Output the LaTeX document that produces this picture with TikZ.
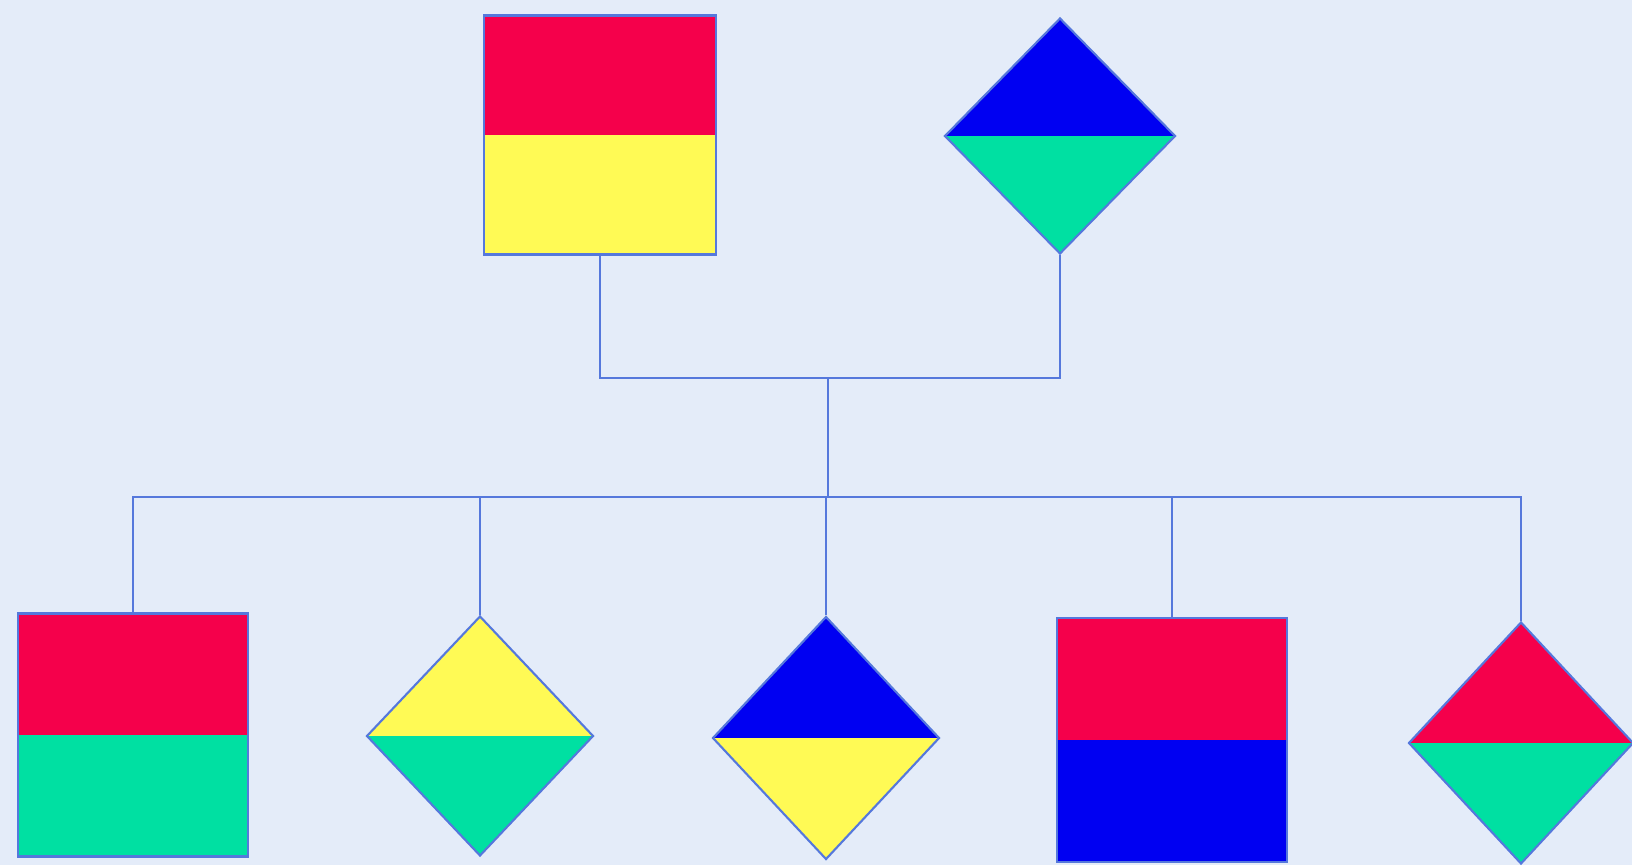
\documentclass[tikz,border=0pt]{standalone}
\usetikzlibrary{shapes.geometric}
\definecolor{bg}{RGB}{228,236,249}
\definecolor{fred}{RGB}{245,0,75}
\definecolor{fyel}{RGB}{255,250,85}
\definecolor{fgrn}{RGB}{0,224,162}
\definecolor{fblu}{RGB}{0,0,242}
\definecolor{lnc}{RGB}{85,120,220}
\tikzset{
  halves/.style 2 args={path picture={
    \fill[#1] (path picture bounding box.north west) rectangle (path picture bounding box.east);
    \fill[#2] (path picture bounding box.west) rectangle (path picture bounding box.south east);}},
  flagbox/.style={rectangle, draw=lnc, line width=1.2pt, inner sep=0pt},
  flagdia/.style={diamond, draw=lnc, line width=1.2pt, inner sep=0pt},
  conn/.style={draw=lnc, line width=1.6pt}
}
\begin{document}
\begin{tikzpicture}[x=0.02cm,y=-0.02cm]
\fill[bg] (0,0) rectangle (1632,865);
\useasboundingbox (0,0) rectangle (1632,865);
\node[flagbox, halves={fred}{fyel}, minimum width=4.64cm, minimum height=4.78cm] (ts) at (600,135) {};
\node[flagdia, halves={fblu}{fgrn}, minimum width=4.62cm, minimum height=4.72cm] (td) at (1060,136) {};
\node[flagbox, halves={fred}{fgrn}, minimum width=4.6cm, minimum height=4.86cm] (s1) at (133,735) {};
\node[flagdia, halves={fyel}{fgrn}, minimum width=4.54cm, minimum height=4.8cm] (d2) at (480,736) {};
\node[flagdia, halves={fblu}{fyel}, minimum width=4.54cm, minimum height=4.86cm] (d3) at (826,738) {};
\node[flagbox, halves={fred}{fblu}, minimum width=4.6cm, minimum height=4.88cm] (s4) at (1172,740) {};
\node[flagdia, halves={fred}{fgrn}, minimum width=4.5cm, minimum height=4.84cm] (d5) at (1521,743) {};
\coordinate (jA) at (828,378);
\coordinate (jB) at (828,497);
\draw[conn] (ts.south) |- (jA) -| (td.south);
\draw[conn] (jA) -- (jB);
\draw[conn] (s1.north) -- (s1.north |- jB) -- (d5.north |- jB) -- (d5.north);
\draw[conn] (d2.north) -- (d2.north |- jB);
\draw[conn] (d3.north) -- (d3.north |- jB);
\draw[conn] (s4.north) -- (s4.north |- jB);
\end{tikzpicture}
\end{document}
